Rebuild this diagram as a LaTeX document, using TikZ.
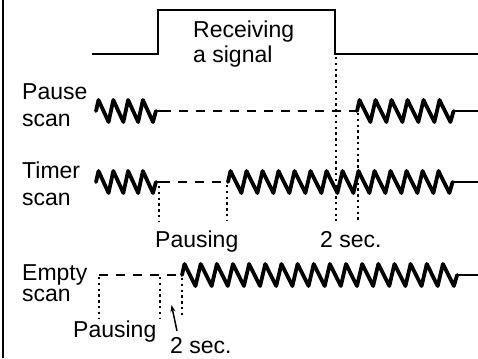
\documentclass[tikz,border=0pt]{standalone}
\usepackage{fontspec}
\setmainfont{Liberation Sans}
\usetikzlibrary{arrows.meta}
\newcommand{\wamp}{11}
\newcommand{\scanwave}[6]{%
  \coordinate (#1s) at (#2,#3);
  \draw[wave] (#1s) -- ++(2.5,-\wamp)
    \foreach \i in {2,...,#4}{ -- ++(0.68*#5,2*\wamp) -- ++(0.32*#5,-2*\wamp) }
    -- ++(0.68*#5,2*\wamp) -- ++(0.2*#5,-\wamp) coordinate (#1e);
  \coordinate (#1t) at (#6,#3);
  \draw[tailln] (#1e) -- (#1t);
}
\begin{document}
\begin{tikzpicture}[x=1pt,y=-1pt,
  sig/.style={line width=2pt},
  wave/.style={line width=3.8pt, line join=round, line cap=round},
  tailln/.style={line width=2.2pt},
  dashln/.style={line width=2.2pt, dash pattern=on 9pt off 8pt},
  dotln/.style={line width=2.4pt, dash pattern=on 2.4pt off 3.4pt},
  lbl/.style={inner sep=0pt, anchor=base west, font=\fontsize{23}{26}\selectfont}]
\useasboundingbox (0,0) rectangle (478,358);
% left border
\coordinate (bt) at (3,0);
\coordinate (bb) at (3,358);
\draw[line width=2pt] (bt) -- (bb);
% signal
\coordinate (s0) at (92,54);
\coordinate (s1) at (158,54);
\coordinate (s2) at (158,10);
\coordinate (s3) at (335,10);
\coordinate (s4) at (335,54);
\coordinate (s5) at (478,54);
\draw[sig] (s0) -- (s1) -- (s2) -- (s3) -- (s4) -- (s5);
\node[lbl] (rec1) at (193,38) {Receiving};
\node[lbl] (rec2) at (193,63) {a signal};
% labels
\node[lbl] (pause) at (22,100) {Pause};
\node[lbl] (pscan) at (22,127) {scan};
\node[lbl] (timer) at (22,178) {Timer};
\node[lbl] (tscan) at (22,205) {scan};
\node[lbl] (empty) at (22,280) {Empty};
\node[lbl] (escan) at (22,301) {scan};
\node[lbl] (tpaus) at (155,247) {Pausing};
\node[lbl] (tsec) at (320,247) {2 sec.};
\node[lbl] (epaus) at (73,337) {Pausing};
\node[lbl] (esec) at (170,353) {2 sec.};
% pause scan
\scanwave{pa}{96}{111}{4}{14.8}{162}
\scanwave{pb}{357}{111}{6}{16}{478}
\draw[dashln] (pat) -- (pbs);
% timer scan
\scanwave{ta}{96}{182}{4}{14.8}{161}
\scanwave{tb}{228}{182}{14}{16}{478}
\draw[dashln] (tat) -- (tbs);
% empty scan
\coordinate (eds) at (99,275);
\scanwave{ea}{182}{275}{17}{16.15}{478}
\draw[dashln] (eds) -- (eas);
% dotted verticals
\coordinate (d1a) at (336,57);  \coordinate (d1b) at (336,221);
\coordinate (d2a) at (358,113); \coordinate (d2b) at (358,221);
\coordinate (d3a) at (159,186); \coordinate (d3b) at (159,221);
\coordinate (d4a) at (227,185); \coordinate (d4b) at (227,221);
\coordinate (e1a) at (99,277);  \coordinate (e1b) at (99,318);
\coordinate (e2a) at (160,277); \coordinate (e2b) at (160,318);
\coordinate (e3a) at (182,278); \coordinate (e3b) at (182,318);
\foreach \a/\b in {d1a/d1b,d2a/d2b,d3a/d3b,d4a/d4b,e1a/e1b,e2a/e2b,e3a/e3b}
  \draw[dotln] (\a) -- (\b);
% arrow
\coordinate (arT) at (177,331);
\coordinate (arH) at (171.5,305);
\draw[line width=1.5pt,-{Stealth[length=7pt,width=5pt]}] (arT) -- (arH);
\end{tikzpicture}
\end{document}
